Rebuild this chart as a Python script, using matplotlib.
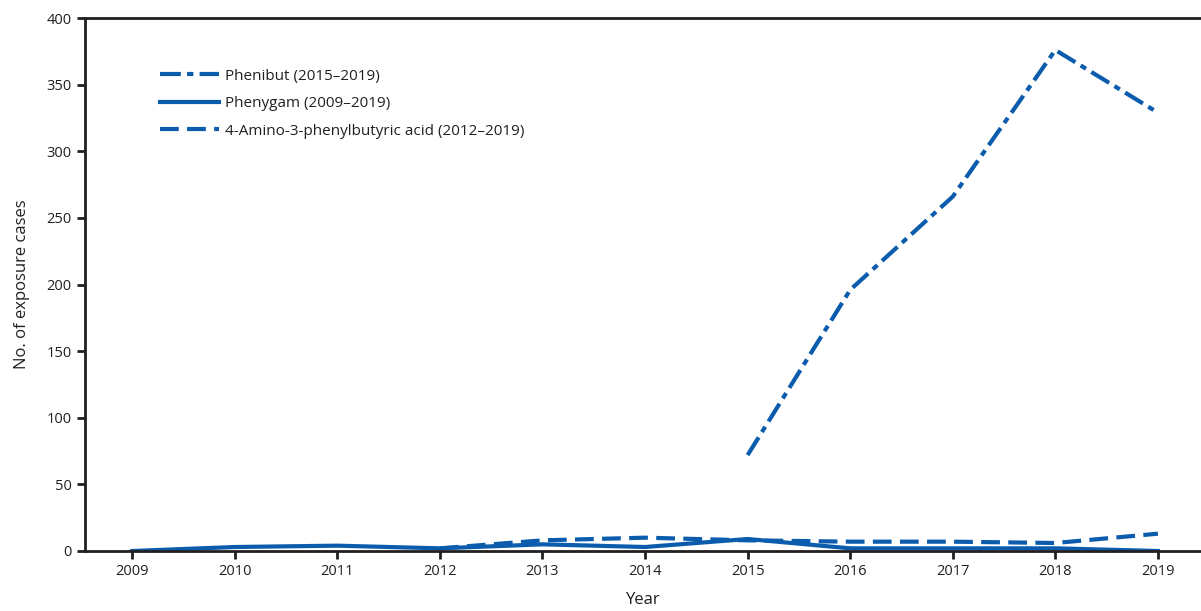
import numpy as np
import matplotlib.pyplot as plt

years = [2009, 2010, 2011, 2012, 2013, 2014, 2015, 2016, 2017, 2018, 2019]

phenibut_years = [2015, 2016, 2017, 2018, 2019]
phenibut = [72, 196, 266, 376, 329]

phenygam = [0, 3, 4, 2, 5, 3, 9, 2, 2, 2, 0]

amino_years = [2012, 2013, 2014, 2015, 2016, 2017, 2018, 2019]
amino = [2, 8, 10, 8, 7, 7, 6, 13]

color = '#0b5cad'
plt.rcParams['font.family'] = ['Open Sans', 'DejaVu Sans']

fig = plt.figure(figsize=(12.01, 6.11), dpi=100)
ax = fig.add_axes([0.0708, 0.0982, 0.9292, 0.8723])

lw = 3
ax.plot(phenibut_years, phenibut, color=color, lw=lw, linestyle=(0, (5, 1.5, 1.5, 1.5)),
        label='Phenibut (2015\u20132019)')
ax.plot(years, phenygam, color=color, lw=lw, linestyle='-',
        label='Phenygam (2009\u20132019)')
ax.plot(amino_years, amino, color=color, lw=lw, linestyle=(0, (4.5, 2)),
        label='4-Amino-3-phenylbutyric acid (2012\u20132019)')

ax.set_xlim(2008.54, 2019.42)
ax.set_ylim(0, 400)
ax.set_xticks(years)
ax.set_yticks(np.arange(0, 401, 50))

for s in ['left', 'bottom', 'top']:
    ax.spines[s].set_linewidth(2)
    ax.spines[s].set_color('#231f20')
ax.spines['right'].set_visible(False)
ax.tick_params(direction='out', length=6, width=2, color='#231f20', labelsize=10.5,
               labelcolor='#231f20')

ax.set_xlabel('Year', fontsize=12, color='#231f20', labelpad=9)
ax.set_ylabel('No. of exposure cases', fontsize=12, color='#231f20', labelpad=12)

leg = ax.legend(loc='upper left', bbox_to_anchor=(0.067, 0.905), frameon=False, fontsize=11,
                handlelength=3.9, handletextpad=0.4, labelspacing=0.82,
                borderpad=0, borderaxespad=0, labelcolor='#231f20')

fig.savefig('out.png', dpi=100)
